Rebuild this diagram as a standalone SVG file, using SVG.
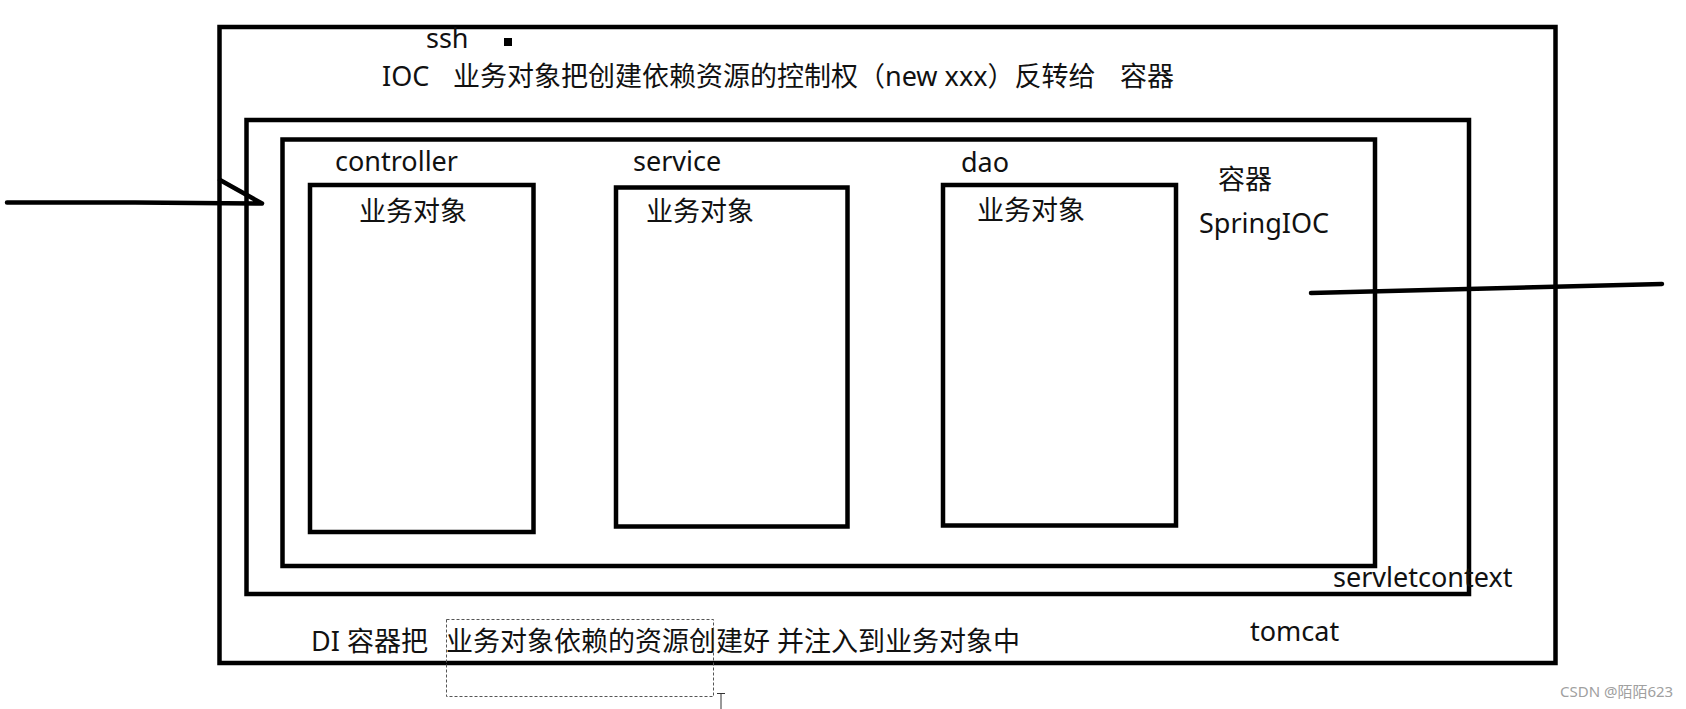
<svg xmlns="http://www.w3.org/2000/svg" width="1686" height="709" viewBox="0 0 1686 709">
  <style>
    .box { fill: none; stroke: #000; stroke-width: 4.5; }
    .t { font-family: "Noto Sans", "Noto Sans CJK SC", sans-serif; font-size: 27px; fill: #111; }
    .conn { fill: none; stroke: #000; stroke-width: 4.5; stroke-linecap: round; stroke-linejoin: round; }
    .sel { fill: none; stroke: #555; stroke-width: 1; stroke-dasharray: 3 2; }
    .wm { font-family: "Noto Sans", "Noto Sans CJK SC", sans-serif; font-size: 15px; fill: #a0a0a0; }
  </style>
  <rect width="1686" height="709" fill="#fff"/>

  <g id="tomcat">
    <rect class="box" x="219.5" y="27" width="1336" height="636"/>
    <text class="t" x="426" y="48">ssh</text>
    <rect x="504" y="38" width="8" height="8" fill="#000"/>
    <text class="t" y="86"><tspan x="382">IOC   </tspan><tspan x="453">业务对象把创建依赖资源的控制权（new xxx）反转给</tspan><tspan x="1120">容器</tspan></text>
    <text class="t" y="651"><tspan x="311">DI </tspan><tspan x="347">容器把  </tspan><tspan x="446">业务对象依赖的资源创建好 </tspan><tspan x="777">并注入到业务对象中</tspan></text>
    <text class="t" x="1250" y="641">tomcat</text>
  </g>

  <g id="servletcontext">
    <rect class="box" x="246.5" y="120" width="1222.5" height="474"/>
    <text class="t" x="1333" y="587">servletcontext</text>
  </g>

  <g id="springioc">
    <rect class="box" x="282.5" y="139.5" width="1092.5" height="426.5"/>
    <text class="t" x="1218" y="189">容器</text>
    <text class="t" x="1199" y="233">SpringIOC</text>
  </g>

  <g id="controller">
    <text class="t" x="335" y="171">controller</text>
    <rect class="box" x="310" y="185" width="223.5" height="347"/>
    <text class="t" x="359" y="221">业务对象</text>
  </g>

  <g id="service">
    <text class="t" x="633" y="171">service</text>
    <rect class="box" x="616" y="187.5" width="231.5" height="339"/>
    <text class="t" x="646" y="221">业务对象</text>
  </g>

  <g id="dao">
    <text class="t" x="961" y="172">dao</text>
    <rect class="box" x="943" y="185" width="233" height="340.5"/>
    <text class="t" x="977" y="220">业务对象</text>
  </g>

  <g id="connectors">
    <path class="conn" d="M7,202.5 L135,202.5 L262,203.5 M220,180 L262,203.5"/>
    <path class="conn" d="M1311,293 L1662,284"/>
  </g>

  <g id="artifacts">
    <rect class="sel" x="446.5" y="619.5" width="267" height="77"/>
    <path d="M717,693.5 H725 M721,693.5 V709" stroke="#333" stroke-width="1" fill="none"/>
    <text class="wm" x="1560" y="697">CSDN @陌陌623</text>
  </g>
</svg>
